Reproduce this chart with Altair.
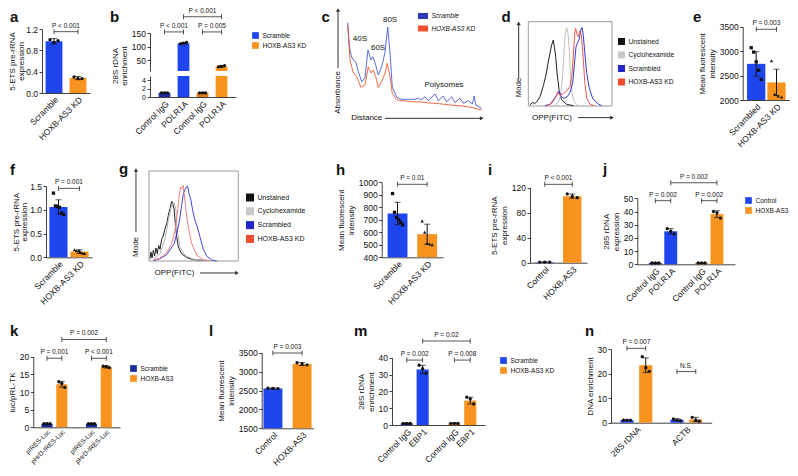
import altair as alt
import pandas as pd
import numpy as np

OX, OY = 8, 8
W, H = 782, 460
FONT = "Liberation Sans"
INK = "#111111"
BLUE = "#1F45EE"
NAVY = "#1B2B9B"
ORANGE = "#F7931E"
DORANGE = "#DC7A1C"


def X(v):
    return round(v - OX, 2)


def Y(v):
    return round(v - OY, 2)


# ======================= data =======================
a_cats = ["Scramble", "HOXB-AS3 KD"]
a_mean = [0.97, 0.28]
a_sd = [0.05, 0.03]
a_pts = [[1.00, 0.95, 0.98], [0.30, 0.27, 0.27]]
a_brk = [(0, 1, 1.15, "P < 0.001")]

b_cats = ["Control IgG", "POLR1A", "Control IgG ", "POLR1A "]
b_grp = ["Scramble", "Scramble", "HOXB-AS3 KD", "HOXB-AS3 KD"]
b_mean = [1.0, 112.0, 1.0, 27.0]
b_sd = [0.1, 2.5, 0.1, 3.0]
b_pts = [[1.0, 1.0, 1.0], [110, 113, 115], [1.0, 1.0, 1.0], [25, 27, 30]]
b_brk = [(0, 1, 154, "P < 0.001"), (2, 3, 154, "P = 0.005"), (1, 3, 210, "P < 0.001")]

c_names = ["Scramble", "HOXB-AS3 KD"]
c_scr_x = [0.5, 1.4, 2.2, 3.3, 4.6, 6.3, 8.2, 10.7, 13.0, 15.2, 17.4, 18.8, 20.8, 22.7, 25.1,
           27.5, 29.5, 31.2, 32.8, 36.0, 39.6, 46.9, 49.3, 51.7, 53.6, 56.5, 58.9, 63.8, 66.2,
           69.8, 72.2, 75.9, 78.3, 81.9, 84.3, 87.9, 90.8, 92.2, 93.3, 97.6]
c_scr_y = [97.1, 78.3, 67.4, 59.8, 56.5, 54.7, 43.8, 32.9, 37.0, 67.4, 56.5, 60.1, 51.1, 40.2,
           49.2, 64.1, 92.1, 64.1, 27.5, 16.0, 13.8, 13.8, 13.8, 14.9, 13.0, 16.6, 12.3, 19.6,
           12.3, 17.4, 11.2, 16.6, 10.1, 14.9, 9.5, 12.3, 8.7, 17.4, 7.6, 4.0]
c_kd_x = [0.5, 1.4, 2.2, 4.3, 7.0, 10.1, 13.0, 15.4, 17.4, 19.1, 20.8, 22.7, 25.1, 27.5, 29.2,
          31.2, 32.8, 36.0, 46.9, 53.0, 60.1, 67.0, 74.6, 82.0, 89.1, 97.6]
c_kd_y = [94.6, 72.8, 56.5, 43.8, 38.4, 26.8, 29.3, 49.2, 42.4, 45.7, 38.4, 26.8, 32.9, 42.1,
          52.9, 38.4, 20.3, 13.0, 11.2, 10.9, 9.8, 9.0, 7.6, 6.8, 5.4, 2.2]
c_peaks = ["40S", "60S", "80S", "Polysomes"]
c_peak_x = [9.4, 22.5, 31.2, 70.3]
c_peak_y = [79.3, 69.6, 100.0, 29.3]

d_names = ["Unstained", "Cyclohexamide", "Scrambled", "HOXB-AS3 KD"]
d_uns_x = [2.0, 5.2, 8.0, 10.8, 14.0, 18.0, 21.1, 23.9, 25.9, 27.9, 29.9, 31.1, 32.7, 34.6, 37.0, 39.9, 45.9, 53.8]
d_uns_y = [1.2, 4.4, 2.8, 5.9, 11.1, 24.1, 36.8, 52.6, 62.5, 72.4, 78.3, 70.3, 58.5, 36.8, 17.0, 7.1, 2.0, 0.4]
d_chx_x = [31.9, 35.8, 38.7, 41.1, 42.7, 44.2, 45.9, 47.4, 49.0, 50.7, 52.6, 55.0, 59.7]
d_chx_y = [1.2, 4.4, 13.0, 36.8, 64.4, 86.2, 92.9, 86.2, 64.4, 32.9, 13.0, 4.4, 0.4]
d_scr_x = [20.0, 25.9, 29.9, 33.9, 37.0, 39.4, 42.7, 46.6, 49.8, 53.0, 55.0, 57.0, 59.0, 61.0,
           63.0, 64.2, 65.7, 67.7, 69.8, 72.9, 76.9, 82.4, 87.7]
d_scr_y = [0.4, 2.0, 7.1, 13.0, 17.8, 11.1, 9.1, 11.1, 16.2, 26.9, 48.6, 70.4, 75.5, 79.5, 91.3,
           93.3, 84.2, 60.5, 38.8, 21.0, 9.1, 3.2, 0.4]
d_kd_x = [22.0, 27.9, 31.9, 35.1, 37.9, 41.8, 45.9, 49.8, 52.2, 53.8, 55.4, 56.6, 58.2, 59.7,
          61.4, 63.3, 65.4, 67.4, 69.8, 73.7, 78.5]
d_kd_y = [0.4, 3.2, 9.1, 16.2, 13.0, 14.6, 17.8, 22.9, 36.8, 60.5, 86.2, 92.1, 85.0, 82.2, 89.0,
          84.2, 60.5, 28.9, 9.1, 2.0, 0.4]

e_cats = ["Scrambled", "HOXB-AS3 KD"]
e_mean = [2740, 2360]
e_sd = [250, 270]
e_pts = [[3070, 2980, 2780, 2610, 2420], [2800, 2120, 2080, 2060]]
e_brk = [(0, 1, 3447, "P = 0.003")]

f_cats = ["Scramble", "HOXB-AS3 KD"]
f_mean = [1.06, 0.12]
f_sd = [0.15, 0.04]
f_pts = [[1.35, 1.08, 1.07, 1.05, 0.93, 0.90], [0.16, 0.14, 0.13, 0.11, 0.09, 0.08]]
f_brk = [(0, 1, 1.45, "P = 0.001")]

g_uns_x = [1.1, 2.2, 3.4, 4.9, 6.3, 7.8, 9.3, 10.8, 12.3, 14.2, 16.0, 17.9, 19.8, 21.6, 23.5,
           25.4, 26.5, 28.0, 29.5, 31.0, 32.8, 36.6, 42.2, 49.6, 64.6]
g_uns_y = [2.6, 10.0, 3.3, 11.9, 5.6, 14.4, 8.1, 17.4, 13.0, 24.1, 27.8, 35.9, 41.5, 50.7, 58.1,
           66.3, 63.7, 58.1, 41.5, 26.7, 15.6, 8.1, 3.7, 1.5, 0.4]
g_chx_x = [4.9, 12.3, 17.9, 21.6, 25.4, 28.3, 30.2, 31.7, 34.7, 40.3, 49.6, 64.6]
g_chx_y = [1.9, 8.1, 24.8, 45.2, 62.6, 64.8, 56.3, 32.2, 15.6, 6.3, 1.9, 0.4]
g_scr_x = [4.9, 12.3, 19.8, 28.3, 31.0, 33.9, 36.6, 38.4, 40.3, 41.8, 43.3, 44.8, 46.7, 48.9,
           51.5, 54.1, 57.1, 60.8, 64.6, 70.2, 75.8]
g_scr_y = [0.4, 2.6, 7.0, 19.3, 30.4, 43.3, 61.9, 74.8, 79.6, 82.2, 83.3, 74.8, 69.3, 56.3,
           45.2, 37.8, 26.7, 13.0, 5.6, 1.1, 0.0]
g_kd_x = [4.9, 12.3, 19.8, 25.4, 29.1, 31.7, 33.9, 35.4, 36.9, 38.1, 39.6, 41.4, 44.0, 47.8, 53.4, 60.8, 68.3]
g_kd_y = [1.1, 3.3, 9.3, 19.3, 34.1, 52.6, 73.0, 82.2, 80.4, 84.1, 73.0, 56.3, 37.8, 19.3, 6.3, 1.5, 0.0]

h_cats = ["Scramble", "HOXB-AS3 KD"]
h_mean = [750, 585]
h_sd = [90, 80]
h_pts = [[910, 760, 720, 700, 680, 660], [690, 600, 510, 505, 500]]
h_brk = [(0, 1, 984, "P = 0.01")]

i_cats = ["Control", "HOXB-AS3"]
i_mean = [1.0, 106.5]
i_sd = [0.3, 3.5]
i_pts = [[1.0, 1.0, 1.0], [110, 106, 104]]
i_brk = [(0, 1, 125.4, "P < 0.001")]

j_cats = ["Control IgG", "POLR1A", " ", "Control IgG ", "POLR1A "]
j_grp = ["Control", "Control", None, "HOXB-AS3", "HOXB-AS3"]
j_mean = [1.0, 25.0, None, 1.0, 38.0]
j_sd = [0.2, 2.0, None, 0.2, 2.5]
j_pts = [[1, 1, 1], [27, 25, 23], None, [1, 1, 1], [40, 39, 35]]
j_brk = [(0, 1, 48.2, "P = 0.002"), (3, 4, 48.2, "P = 0.002"), (1, 4, 61.8, "P = 0.002")]

k_cats = ["pIRES-Luc", "pHrD-IRES-Luc", " ", "pIRES-Luc ", "pHrD-IRES-Luc "]
k_grp = ["Scramble", "HOXB-AS3", None, "Scramble", "HOXB-AS3"]
k_mean = [1.0, 12.2, None, 1.0, 17.1]
k_sd = [0.1, 0.8, None, 0.1, 0.3]
k_pts = [[1, 1, 1], [12.9, 12.4, 11.3], None, [1, 1, 1], [17.3, 17.2, 16.9]]
k_brk = [(0, 1, 19.55, "P = 0.001"), (3, 4, 19.55, "P < 0.001"), (1, 4, 24.9, "P = 0.002")]

l_cats = ["Control", "HOXB-AS3"]
l_mean = [2555, 3200]
l_sd = [15, 40]
l_pts = [[2560, 2555, 2550], [3235, 3200, 3180]]
l_brk = [(0, 1, 3495, "P = 0.003")]

m_cats = ["Control IgG", "EBP1", " ", "Control IgG ", "EBP1 "]
m_grp = ["Scramble", "Scramble", None, "HOXB-AS3 KD", "HOXB-AS3 KD"]
m_mean = [1.0, 33.0, None, 1.0, 14.5]
m_sd = [0.2, 2.5, None, 0.2, 2.0]
m_pts = [[1, 1, 1], [35.5, 33.5, 30.8], None, [1, 1, 1], [16.5, 15.5, 12.5]]
m_brk = [(0, 1, 38.6, "P = 0.002"), (3, 4, 38.6, "P = 0.008"), (1, 4, 49.9, "P = 0.02")]

n_genes = ["28S rDNA", "ACTB"]
n_conds = ["Control", "HOXB-AS3"]
n_mean = {"Control": [1.0, 1.2], "HOXB-AS3": [23.5, 1.3]}
n_sd = {"Control": [0.1, 0.4], "HOXB-AS3": [3.0, 0.9]}
n_pts = {"Control": [[1.0, 1.0, 1.0], [1.5, 1.0, 0.8]],
         "HOXB-AS3": [[27.0, 22.5, 21.0], [2.2, 1.0, 0.6]]}
n_brk = [("28S rDNA", 30.4, "P = 0.007"), ("ACTB", 20.9, "N.S.")]

letters = ["a", "b", "c", "d", "e", "f", "g", "h", "i", "j", "k", "l", "m", "n"]


# ======================= helpers =======================
def legend_def(lx, ly, size=45, fs=6.5, rp=3, shape="square", italic=False, loff=3.5):
    kw = dict(orient="none", legendX=X(lx), legendY=Y(ly), title=None, symbolType=shape,
              symbolSize=size, symbolOpacity=1, symbolStrokeWidth=0, labelFontSize=fs,
              rowPadding=rp, padding=0, labelOffset=loff, labelFont=FONT, labelColor=INK)
    if italic:
        kw["labelFontStyle"] = "italic"
    return alt.Legend(**kw)


def bar_panel(cats, means, sds, pts, colors, box, ydom, yticks, ytitle=None,
              pi=0.3, po=0.2, fmt="d", shapes=None, brackets=(), jit=3.0,
              legend=None, grp=None, show_x=True, cap=6, psize=11, tpad=3, xfont=8.5,
              yfont=8.5, tlh=None, xpad=2):
    x0, x1, yt, yb = box
    lo_v, hi_v = ydom
    n = len(cats)
    step = (x1 - x0) / (n - pi + 2 * po)
    real = [i for i, m in enumerate(means) if m is not None]
    rc = [cats[i] for i in real]
    bars = pd.DataFrame({
        "cat": rc,
        "mean": [means[i] for i in real],
        "sd": [sds[i] for i in real],
        "grp": [grp[i] if grp else cats[i] for i in real],
    })
    bars["lo"] = bars["mean"] - bars["sd"]
    bars["hi"] = bars["mean"] + bars["sd"]
    bars["top"] = bars["mean"].clip(upper=hi_v)
    bars["base"] = lo_v

    xs = alt.Scale(domain=cats, range=[X(x0), X(x1)], paddingInner=pi, paddingOuter=po)
    ys = alt.Scale(domain=ydom, range=[Y(yb), Y(yt)], nice=False, zero=False)
    if show_x:
        xaxis = alt.Axis(orient="bottom", offset=-(H - Y(yb)), labelAngle=-45, ticks=False,
                         title=None, labelOverlap=False, labelFontSize=xfont, labelPadding=xpad)
    else:
        xaxis = None
    ykw = dict(orient="left", offset=-X(x0), values=yticks, labelOverlap=False,
               titlePadding=tpad, title=ytitle, format=fmt, labelFontSize=yfont, labelPadding=1.5)
    if tlh:
        ykw["titleLineHeight"] = tlh
    yaxis = alt.Axis(**ykw)

    def xe(f="cat"):
        return alt.X(f"{f}:N", scale=xs, axis=xaxis)

    def ye(f):
        return alt.Y(f"{f}:Q", scale=ys, axis=yaxis)

    L = []
    vis = bars[bars["mean"] > lo_v]
    L.append(alt.Chart(vis).mark_bar().encode(
        x=xe(), y=ye("top"), y2="base:Q",
        color=alt.Color("cat:N", scale=alt.Scale(domain=rc, range=colors), legend=None)))
    eb = bars[(bars["mean"] >= lo_v) & (bars["mean"] <= hi_v)]
    if len(eb):
        L.append(alt.Chart(eb).mark_rule(color=INK, strokeWidth=1).encode(x=xe(), y=ye("lo"), y2="hi:Q"))
        L.append(alt.Chart(eb).mark_tick(orient="horizontal", size=cap, thickness=1, color=INK).encode(x=xe(), y=ye("hi")))
        L.append(alt.Chart(eb).mark_tick(orient="horizontal", size=cap, thickness=1, color=INK).encode(x=xe(), y=ye("lo")))
    rows = []
    for c, plist in zip(cats, pts):
        if not plist:
            continue
        k = len(plist)
        offs = np.linspace(-jit, jit, k) if k > 1 else [0.0]
        for r, v in enumerate(plist):
            if lo_v <= v <= hi_v * 1.08:
                rows.append({"cat": c, "val": v, "key": f"{offs[r]:.2f}", "off": float(offs[r])})
    if rows:
        pdf = pd.DataFrame(rows)
        for key, g in pdf.groupby("key"):
            enc = dict(x=xe(), y=ye("val"))
            if shapes:
                enc["shape"] = alt.Shape("cat:N", scale=alt.Scale(domain=rc, range=shapes), legend=None)
            L.append(alt.Chart(g).mark_point(filled=True, size=psize, color=INK, opacity=1,
                                             xOffset=float(g["off"].iloc[0])).encode(**enc))
    for (i, j, yv, txt) in brackets:
        span = (j - i) * step
        bdf = pd.DataFrame({"c1": [cats[i]], "c2": [cats[j]], "y": [yv], "t": [txt]})
        L.append(alt.Chart(bdf).mark_tick(orient="horizontal", size=span, thickness=1, color=INK,
                                          xOffset=span / 2).encode(x=xe("c1"), y=ye("y")))
        L.append(alt.Chart(bdf).mark_tick(orient="vertical", size=5, thickness=1, color=INK).encode(x=xe("c1"), y=ye("y")))
        L.append(alt.Chart(bdf).mark_tick(orient="vertical", size=5, thickness=1, color=INK).encode(x=xe("c2"), y=ye("y")))
        L.append(alt.Chart(bdf).mark_text(dx=span / 2, dy=-3, baseline="bottom", fontSize=6.5,
                                          color=INK).encode(x=xe("c1"), y=ye("y"), text="t:N"))
    if legend:
        labs, lcols, lx, ly = legend
        L.append(alt.Chart(bars).mark_square(opacity=0, size=1).encode(
            x=xe(), y=ye("top"),
            fill=alt.Fill("grp:N", scale=alt.Scale(domain=labs, range=lcols), legend=legend_def(lx, ly))))
    return alt.layer(*L)


def line_panel(series, names, colors, box, legend=None, texts=(), rtexts=(), arrows=(),
               frame=False, lw=1.0, fs=8):
    x0, x1, yt, yb = box
    xs = alt.Scale(domain=[0, 100], range=[X(x0), X(x1)], nice=False, zero=False)
    ys = alt.Scale(domain=[0, 100], range=[Y(yb), Y(yt)], nice=False, zero=False)

    def xe(f):
        return alt.X(f"{f}:Q", scale=xs, axis=None)

    def ye(f):
        return alt.Y(f"{f}:Q", scale=ys, axis=None)

    L = []
    if frame:
        fdf = pd.DataFrame({"x": [0], "x2": [100], "y": [0], "y2": [100]})
        L.append(alt.Chart(fdf).mark_rect(fill="white", fillOpacity=0, stroke="#9a9a9a",
                                          strokeWidth=1).encode(x=xe("x"), x2="x2:Q", y=ye("y"), y2="y2:Q"))
    first = []
    for nm, col, (sx, sy) in zip(names, colors, series):
        sdf = pd.DataFrame({"x": sx, "y": sy, "i": list(range(len(sx)))})
        first.append({"lg": nm, "x": sx[0], "y": sy[0]})
        L.append(alt.Chart(sdf).mark_line(strokeWidth=lw, color=col).encode(
            x=xe("x"), y=ye("y"), order="i:Q"))
    if texts:
        tdf = pd.DataFrame(texts, columns=["x", "y", "t"])
        L.append(alt.Chart(tdf).mark_text(fontSize=fs, color=INK, baseline="middle").encode(
            x=xe("x"), y=ye("y"), text="t:N"))
    if rtexts:
        tdf = pd.DataFrame(rtexts, columns=["x", "y", "t"])
        L.append(alt.Chart(tdf).mark_text(fontSize=fs, color=INK, angle=270, baseline="middle").encode(
            x=xe("x"), y=ye("y"), text="t:N"))
    for (ax, ay, ax2, ay2, shp) in arrows:
        adf = pd.DataFrame({"x": [ax], "y": [ay], "x2": [ax2], "y2": [ay2]})
        L.append(alt.Chart(adf).mark_rule(color="#333333", strokeWidth=1).encode(
            x=xe("x"), y=ye("y"), x2="x2:Q", y2="y2:Q"))
        L.append(alt.Chart(adf).mark_point(shape=shp, filled=True, size=18, color="#333333",
                                           opacity=1).encode(x=xe("x2"), y=ye("y2")))
    if legend:
        lcols, lx, ly, lkw = legend
        ldf = pd.DataFrame(first)
        L.append(alt.Chart(ldf).mark_square(opacity=0, size=1).encode(
            x=xe("x"), y=ye("y"),
            fill=alt.Fill("lg:N", scale=alt.Scale(domain=names, range=lcols), legend=legend_def(lx, ly, **lkw))))
    return alt.layer(*L)


def n_panel():
    x0, x1, yt, yb = 611, 711.7, 349.3, 422.7
    pi, po, opi = 0.36, 0.187, 0.3
    step = (x1 - x0) / (2 - pi + 2 * po)
    gbw = step * (1 - pi)
    sstep = gbw / (2 - opi)
    sbw = sstep * (1 - opi)
    soff = {c: -gbw / 2 + sstep * k + sbw / 2 for k, c in enumerate(n_conds)}
    rows = []
    for c in n_conds:
        for gi, gname in enumerate(n_genes):
            m, s = n_mean[c][gi], n_sd[c][gi]
            rows.append({"gene": gname, "cond": c, "lg": c, "mean": m, "lo": m - s, "hi": m + s, "base": 0.0})
    bars = pd.DataFrame(rows)
    xs = alt.Scale(domain=n_genes, range=[X(x0), X(x1)], paddingInner=pi, paddingOuter=po)
    xos = alt.Scale(domain=n_conds, paddingInner=opi, paddingOuter=0)
    ys = alt.Scale(domain=[0, 30], range=[Y(yb), Y(yt)], nice=False, zero=False)
    xaxis = alt.Axis(orient="bottom", offset=-(H - Y(yb)), labelAngle=-45, ticks=False, title=None,
                     labelOverlap=False, labelFontSize=8.5, labelPadding=2)
    yaxis = alt.Axis(orient="left", offset=-X(x0), values=[0, 10, 20, 30], title="DNA enrichment",
                     titlePadding=3, labelOverlap=False, labelPadding=1.5)
    xe = alt.X("gene:N", scale=xs, axis=xaxis)
    xo = alt.XOffset("cond:N", scale=xos)

    def ye(f):
        return alt.Y(f"{f}:Q", scale=ys, axis=yaxis)

    L = [alt.Chart(bars).mark_bar().encode(
        x=xe, xOffset=xo, y=ye("mean"), y2="base:Q",
        color=alt.Color("cond:N", scale=alt.Scale(domain=n_conds, range=[BLUE, ORANGE]), legend=None))]
    L.append(alt.Chart(bars).mark_rule(color=INK, strokeWidth=1).encode(x=xe, xOffset=xo, y=ye("lo"), y2="hi:Q"))
    L.append(alt.Chart(bars).mark_tick(orient="horizontal", size=6, thickness=1, color=INK).encode(x=xe, xOffset=xo, y=ye("hi")))
    L.append(alt.Chart(bars).mark_tick(orient="horizontal", size=6, thickness=1, color=INK).encode(x=xe, xOffset=xo, y=ye("lo")))
    for c in n_conds:
        for gi, gname in enumerate(n_genes):
            plist = n_pts[c][gi]
            offs = np.linspace(-3.5, 3.5, len(plist))
            for r, v in enumerate(plist):
                pdf = pd.DataFrame({"gene": [gname], "val": [v]})
                L.append(alt.Chart(pdf).mark_point(filled=True, size=11, color=INK, opacity=1,
                                                   xOffset=float(soff[c] + offs[r])).encode(x=xe, y=ye("val")))
    for gname, yv, txt in n_brk:
        bdf = pd.DataFrame({"gene": [gname], "y": [yv], "t": [txt]})
        L.append(alt.Chart(bdf).mark_tick(orient="horizontal", size=sstep, thickness=1, color=INK).encode(x=xe, y=ye("y")))
        for c in n_conds:
            L.append(alt.Chart(bdf).mark_tick(orient="vertical", size=5, thickness=1, color=INK,
                                              xOffset=float(soff[c])).encode(x=xe, y=ye("y")))
        L.append(alt.Chart(bdf).mark_text(dy=-3, baseline="bottom", fontSize=6.5, color=INK).encode(
            x=xe, y=ye("y"), text="t:N"))
    L.append(alt.Chart(bars).mark_square(opacity=0, size=1).encode(
        x=xe, y=ye("mean"),
        fill=alt.Fill("lg:N", scale=alt.Scale(domain=n_conds, range=[BLUE, ORANGE]), legend=legend_def(715, 347))))
    return alt.layer(*L)


def free_text(txt, x, y, size=8, angle=0, bold=False, align="center"):
    kw = dict(text=txt, fontSize=size, font=FONT, color=INK, align=align)
    if angle:
        kw["angle"] = angle
        kw["baseline"] = "middle"
    else:
        kw["baseline"] = "alphabetic"
    if bold:
        kw["fontWeight"] = "bold"
    return alt.Chart(pd.DataFrame({"v": [0]})).mark_text(**kw).encode(x=alt.value(X(x)), y=alt.value(Y(y)))


# ======================= panels =======================
layers = []

layers.append(bar_panel(a_cats, a_mean, a_sd, a_pts, [BLUE, ORANGE], (42, 90, 29, 93), [0, 1.2],
                        [0, 0.4, 0.8, 1.2], ["5-ETS pre-rRNA", "expression"], pi=0.3, po=0.15,
                        fmt=".1f", brackets=a_brk, jit=4, tpad=0.5, tlh=8.5))

b_cols = [NAVY, BLUE, DORANGE, ORANGE]
layers.append(bar_panel(b_cats, b_mean, b_sd, b_pts, b_cols, (150, 236, 76, 97), [0, 5], [0, 2, 4],
                        None, pi=0.38, po=0.45, jit=3, yfont=7))
layers.append(bar_panel(b_cats, b_mean, b_sd, b_pts, b_cols, (150, 236, 33, 71), [10, 150],
                        [50, 100, 150], None, pi=0.38, po=0.45, jit=3, show_x=False,
                        brackets=b_brk, legend=(["Scramble", "HOXB-AS3 KD"], [BLUE, ORANGE], 252, 32),
                        grp=b_grp))

layers.append(line_panel([(c_scr_x, c_scr_y), (c_kd_x, c_kd_y)], c_names, ["#4A5CD0", "#EE5A33"],
                         (347, 485, 20, 112), lw=0.9,
                         legend=(["#2A3AB8", "#F0502A"], 418, 11,
                                 dict(size=100, fs=6.5, rp=3.5, shape="M-1,-0.6H1V0.6H-1Z", italic=True)),
                         texts=[(x, y, t) for x, y, t in zip(c_peak_x, c_peak_y, c_peaks)] + [(14.3, -6.9, "Distance")],
                         rtexts=[(-6.5, 21.2, "Absorbance")],
                         arrows=[(-6.5, 47.8, -6.5, 110.9, "triangle-up"),
                                 (27.5, -6.9, 97.6, -6.9, "triangle-right")]))

layers.append(line_panel([(d_uns_x, d_uns_y), (d_chx_x, d_chx_y), (d_scr_x, d_scr_y), (d_kd_x, d_kd_y)],
                         d_names, ["#222222", "#C0C0C0", "#3A3AD8", "#F0564A"], (528.3, 612, 21.7, 106),
                         legend=(["#111111", "#C8C8C8", "#2424C8", "#F04A2E"], 618, 38,
                                 dict(size=49, fs=6.7, rp=5.5)),
                         texts=[(28.3, -13.8, "OPP(FITC)")], rtexts=[(-11.5, 21.9, "Mode")],
                         arrows=[(-11.5, 32.9, -11.5, 98.1, "triangle-up"),
                                 (59.4, -13.8, 100, -13.8, "triangle-right")], frame=True))

layers.append(bar_panel(e_cats, e_mean, e_sd, e_pts, [BLUE, ORANGE], (742.7, 790, 26.7, 100),
                        [2000, 3500], [2000, 2500, 3000, 3500], ["Mean fluorescent", "intensity"],
                        pi=0.1, po=0.215, shapes=["square", "triangle-up"], brackets=e_brk, jit=5))

layers.append(bar_panel(f_cats, f_mean, f_sd, f_pts, [BLUE, ORANGE], (46, 92, 186, 257.3), [0, 1.5],
                        [0, 0.5, 1.0, 1.5], ["5-ETS pre-rRNA", "expression"], pi=0.14, po=0.16,
                        fmt=".1f", shapes=["square", "triangle-up"], brackets=f_brk, jit=5, tpad=1,
                        tlh=8.5))

layers.append(line_panel([(g_uns_x, g_uns_y), (g_chx_x, g_chx_y), (g_scr_x, g_scr_y), (g_kd_x, g_kd_y)],
                         d_names, ["#222222", "#B0B0B0", "#4444D4", "#F08080"], (149, 238.3, 171, 261),
                         legend=(["#111111", "#C8C8C8", "#2424C8", "#F04A2E"], 246, 193.5,
                                 dict(size=64, fs=7, rp=5.8)),
                         texts=[(28.6, -13.3, "OPP(FITC)")], rtexts=[(-14.6, 15.6, "Mode")],
                         arrows=[(-14.6, 32.2, -14.6, 101.1, "triangle-up"),
                                 (57.1, -13.3, 98.5, -13.3, "triangle-right")], frame=True))

layers.append(bar_panel(h_cats, h_mean, h_sd, h_pts, [BLUE, ORANGE], (381.7, 443, 182.3, 257.3),
                        [400, 1000], [400, 500, 600, 700, 800, 900, 1000], ["Mean fluorescent", "intensity"],
                        pi=0.33, po=0.2, shapes=["square", "triangle-up"], brackets=h_brk, jit=5))

layers.append(bar_panel(i_cats, i_mean, i_sd, i_pts, [BLUE, ORANGE], (530, 587, 187.7, 262.7),
                        [0, 120], [0, 40, 80, 120], ["5-ETS pre-rRNA", "expression"], pi=0.33, po=0.2,
                        brackets=i_brk, jit=5))

layers.append(bar_panel(j_cats, j_mean, j_sd, j_pts, [NAVY, BLUE, DORANGE, ORANGE],
                        (637.3, 735, 198.3, 264.3), [0, 50], [0, 10, 20, 30, 40, 50],
                        ["28S rDNA", "expression"], pi=0.16, po=0.75, brackets=j_brk, jit=3.5,
                        legend=(["Control", "HOXB-AS3"], [BLUE, ORANGE], 745, 197), grp=j_grp))

layers.append(bar_panel(k_cats, k_mean, k_sd, k_pts, [NAVY, ORANGE, NAVY, ORANGE],
                        (33.3, 120, 356.7, 427.3), [0, 20], [0, 5, 10, 15, 20], "luc/pRL-TK",
                        pi=0.25, po=0.55, brackets=k_brk, jit=3, xfont=6.5, xpad=1,
                        legend=(["Scramble", "HOXB-AS3"], [NAVY, ORANGE], 130, 365), grp=k_grp))

layers.append(bar_panel(l_cats, l_mean, l_sd, l_pts, [BLUE, ORANGE], (261.7, 313.3, 352.7, 428.3),
                        [1500, 3500], [1500, 2000, 2500, 3000, 3500], ["Mean fluorescent", "intensity"],
                        pi=0.35, po=0.06, brackets=l_brk, jit=5))

layers.append(bar_panel(m_cats, m_mean, m_sd, m_pts, [NAVY, BLUE, DORANGE, ORANGE],
                        (392, 485, 357.7, 425), [0, 40], [0, 10, 20, 30, 40], ["28S rDNA", "enrichment"],
                        pi=0.24, po=0.55, brackets=m_brk, jit=3.5,
                        legend=(["Scramble", "HOXB-AS3 KD"], [BLUE, ORANGE], 500, 357), grp=m_grp))

layers.append(n_panel())

# y-axis title of the broken-axis panel b
layers.append(free_text("28S rDNA", 116, 66, size=8, angle=270))
layers.append(free_text("enrichment", 125, 66, size=8, angle=270))

# panel letters
letter_pos = [(10, 22), (110, 22), (321.5, 22), (501.5, 22), (693, 22),
              (10, 175), (119, 174), (336, 175), (488, 175), (603, 174),
              (10, 336), (209, 336), (354, 336), (585, 336)]
for t, (lx, ly) in zip(letters, letter_pos):
    layers.append(free_text(t, lx, ly, size=15, bold=True, align="left"))

chart = alt.layer(*layers).resolve_scale(
    x="independent", y="independent", color="independent", fill="independent",
    shape="independent", xOffset="independent"
).properties(
    width=W, height=H, padding=0, autosize=alt.AutoSizeParams(type="none"), background="white"
).configure_view(strokeWidth=0).configure_axis(
    labelFont=FONT, titleFont=FONT, labelFontSize=8.5, titleFontSize=8, titleFontWeight="normal",
    labelColor=INK, titleColor=INK, domainColor=INK, tickColor=INK, grid=False, tickSize=3,
    domainWidth=0.8, tickWidth=0.8
).configure_text(font=FONT)

chart.save("out.html", embed_options={"renderer": "svg", "actions": False})
